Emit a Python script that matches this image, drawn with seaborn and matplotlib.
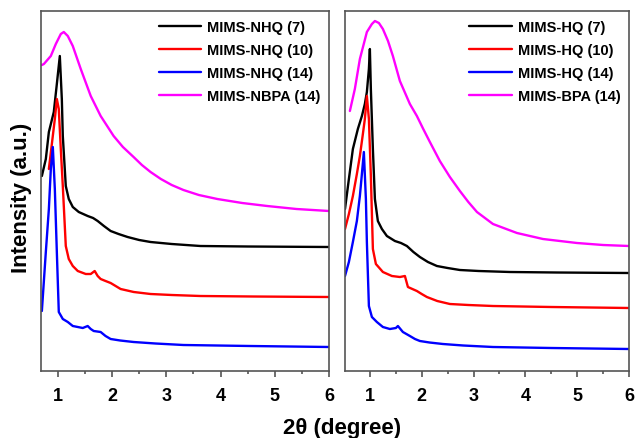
import matplotlib
matplotlib.use("Agg")
import matplotlib.pyplot as plt
import seaborn as sns
import numpy as np
from matplotlib.ticker import MultipleLocator

# values (2theta in degree, intensity in arbitrary units)
nhq7_x = [0.706, 0.779, 0.835, 0.926, 0.982, 1.037, 1.074, 1.092, 1.147, 1.202, 1.276, 1.386,
          1.551, 1.650, 1.735, 1.850, 1.974, 2.120, 2.287, 2.500, 2.710, 3.100, 3.629, 4.500, 6.0]
nhq7_y = [195, 212, 239, 259, 287, 315, 272, 235, 185, 172, 164, 159,
          155, 153, 150, 145, 140, 137, 134, 131, 129, 127, 125, 124.5, 124]

nhq10_x = [0.835, 0.890, 0.945, 0.982, 1.018, 1.055, 1.092, 1.147, 1.202, 1.276, 1.368,
           1.515, 1.607, 1.680, 1.735, 1.790, 1.880, 1.974, 2.158, 2.400, 2.710, 3.100, 3.629,
           4.600, 6.0]
nhq10_y = [202, 227, 252, 272, 262, 222, 185, 125, 112, 105, 100,
           97, 97, 100, 95, 92, 90, 88, 82, 79, 77, 76, 75, 74.5, 74]

nhq14_x = [0.706, 0.779, 0.835, 0.871, 0.908, 0.945, 0.982, 1.018, 1.092, 1.184, 1.276,
           1.368, 1.460, 1.551, 1.607, 1.662, 1.790, 1.880, 1.974, 2.150, 2.397, 2.800, 3.316,
           4.548, 6.0]
nhq14_y = [60, 119, 162, 202, 224, 182, 119, 59, 52, 49, 45,
           44, 43, 45, 42, 40, 39, 35, 32, 30.5, 29, 27.5, 26, 25, 24]

nbpa14_x = [0.706, 0.743, 0.871, 0.963, 1.055, 1.110, 1.184, 1.276, 1.423, 1.607, 1.790,
            2.029, 2.200, 2.397, 2.550, 2.710, 2.900, 3.100, 3.316, 3.600, 3.941, 4.400, 4.860,
            5.400, 6.0]
nbpa14_y = [306, 307, 315, 327, 337, 339, 335, 325, 302, 275, 255,
            235, 224, 214, 206, 199, 192, 186, 181, 176, 172, 168, 165, 162, 160]

hq7_x = [0.52, 0.595, 0.672, 0.768, 0.846, 0.903, 0.942, 0.981, 1.0, 1.019, 1.058, 1.097,
         1.154, 1.232, 1.328, 1.483, 1.600, 1.714, 1.840, 1.965, 2.120, 2.293, 2.500, 2.737,
         3.100, 3.703, 4.600, 6.0]
hq7_y = [162, 192, 222, 242, 255, 267, 279, 302, 322, 282, 222, 172,
         150, 142, 135, 130, 128, 125, 119, 114, 109, 105, 103, 101,
         100, 99, 98.5, 98]

hq10_x = [0.52, 0.595, 0.672, 0.749, 0.807, 0.865, 0.903, 0.942, 0.981, 1.019, 1.058,
          1.116, 1.251, 1.425, 1.579, 1.676, 1.734, 1.820, 1.907, 2.000, 2.100, 2.300, 2.544,
          2.900, 3.375, 4.500, 6.0]
hq10_y = [142, 157, 175, 197, 215, 237, 252, 275, 252, 195, 122,
          107, 99, 95, 94, 95, 84, 82, 80, 77, 74, 70, 67,
          66, 65, 64, 63]

hq14_x = [0.52, 0.595, 0.672, 0.749, 0.807, 0.846, 0.884, 0.923, 0.942, 0.981, 1.039,
          1.135, 1.251, 1.386, 1.502, 1.541, 1.637, 1.772, 1.870, 1.965, 2.150, 2.409, 2.800,
          3.375, 4.500, 6.0]
hq14_y = [95, 109, 129, 150, 175, 197, 219, 172, 129, 65, 54,
          49, 44, 42, 43, 45, 39, 35, 32, 30, 28.5, 27, 25.5,
          24, 23, 22]

bpa14_x = [0.614, 0.710, 0.807, 0.942, 1.039, 1.097, 1.174, 1.251, 1.350, 1.444, 1.579,
           1.772, 1.907, 2.030, 2.158, 2.350, 2.544, 2.737, 2.900, 3.066, 3.375, 3.838, 4.340,
           4.996, 5.500, 6.0]
bpa14_y = [260, 282, 312, 339, 347, 350, 348, 342, 330, 315, 290,
           267, 255, 242, 229, 210, 194, 180, 169, 159, 147, 138, 132,
           128, 126, 125]

left_series = [(nhq7_x, nhq7_y, "MIMS-NHQ (7)", "black"),
               (nhq10_x, nhq10_y, "MIMS-NHQ (10)", "#ff0000"),
               (nhq14_x, nhq14_y, "MIMS-NHQ (14)", "#0000ff"),
               (nbpa14_x, nbpa14_y, "MIMS-NBPA (14)", "#ff00ff")]
right_series = [(hq7_x, hq7_y, "MIMS-HQ (7)", "black"),
                (hq10_x, hq10_y, "MIMS-HQ (10)", "#ff0000"),
                (hq14_x, hq14_y, "MIMS-HQ (14)", "#0000ff"),
                (bpa14_x, bpa14_y, "MIMS-BPA (14)", "#ff00ff")]

sns.set_style("white")
plt.rcParams["font.family"] = ["Liberation Sans", "DejaVu Sans"]
plt.rcParams["font.weight"] = "bold"
plt.rcParams["text.color"] = "black"
plt.rcParams["xtick.color"] = "black"

fig = plt.figure(figsize=(6.36, 4.39), dpi=100)
ax1 = fig.add_axes([41 / 636, 67 / 439, 288 / 636, 360 / 439])
ax2 = fig.add_axes([345 / 636, 67 / 439, 284 / 636, 360 / 439])

frame = "#555555"
for ax, series, xmin in [(ax1, left_series, 0.69), (ax2, right_series, 0.52)]:
    for xs, ys, lab, col in series:
        sns.lineplot(x=xs, y=ys, ax=ax, color=col, label=lab, linewidth=1.7, estimator=None)
    ax.set_xlim(xmin, 6)
    ax.set_ylim(0, 360)
    ax.set_yticks([])
    ax.xaxis.set_major_locator(MultipleLocator(1))
    ax.xaxis.set_minor_locator(MultipleLocator(0.5))
    ax.tick_params(axis="x", which="both", direction="out", bottom=True, color=frame,
                   labelcolor="black", width=1.2, labelsize=13, pad=7)
    ax.tick_params(axis="x", which="major", length=4.5)
    ax.tick_params(axis="x", which="minor", length=2.5)
    for lbl in ax.get_xticklabels():
        lbl.set_fontweight("bold")
    for sp in ax.spines.values():
        sp.set_color(frame)
        sp.set_linewidth(1.2)
    ax.set_xlabel("")
    ax.set_ylabel("")
    ax.legend(loc="upper right", frameon=False, prop={"size": 10.5, "weight": "bold"},
              handlelength=2.9, handletextpad=0.4, labelspacing=0.62,
              borderaxespad=0.3, borderpad=0.3)

fig.text(22 / 636, 0.55, "Intensity (a.u.)", rotation=90, ha="center", va="center",
         fontsize=16, fontweight="bold")
fig.text(342 / 636, 0.025, "2θ (degree)", ha="center", va="center",
         fontsize=16, fontweight="bold")

fig.savefig("out.png", dpi=100)
